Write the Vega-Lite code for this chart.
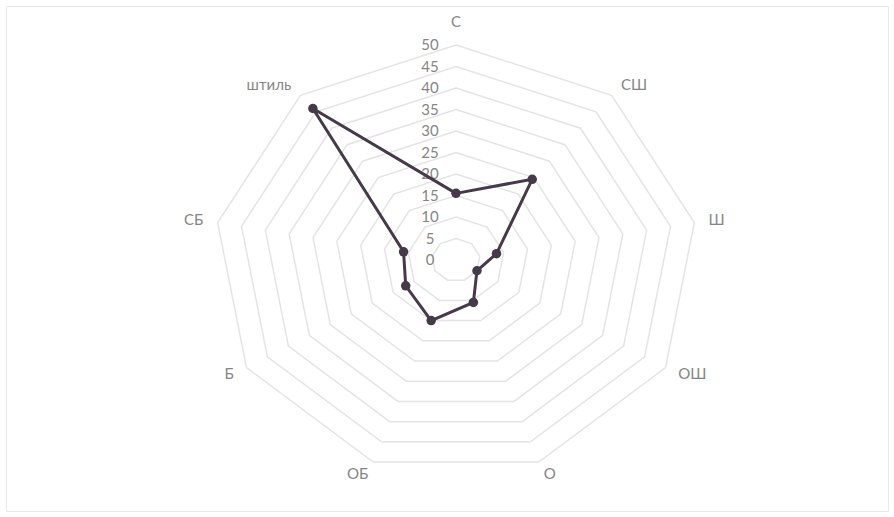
{
  "$schema": "https://vega.github.io/schema/vega-lite/v6.json",
  "width": 882,
  "height": 505,
  "autosize": {"type": "none"},
  "padding": {"left": 6, "top": 6, "right": 6, "bottom": 6},
  "background": "white",
  "config": {"view": {"stroke": "#e8e8e8", "strokeWidth": 1}, "font": "Lato"},
  "datasets": {
    "wind": [
      {"dir": "С", "i": 0, "value": 15.5},
      {"dir": "СШ", "i": 1, "value": 24.5},
      {"dir": "Ш", "i": 2, "value": 8.5},
      {"dir": "ОШ", "i": 3, "value": 5},
      {"dir": "О", "i": 4, "value": 10.5},
      {"dir": "ОБ", "i": 5, "value": 15},
      {"dir": "Б", "i": 6, "value": 12},
      {"dir": "СБ", "i": 7, "value": 11},
      {"dir": "штиль", "i": 8, "value": 46}
    ],
    "grid": [
      {"level": 5, "i": [0, 1, 2, 3, 4, 5, 6, 7, 8]},
      {"level": 10, "i": [0, 1, 2, 3, 4, 5, 6, 7, 8]},
      {"level": 15, "i": [0, 1, 2, 3, 4, 5, 6, 7, 8]},
      {"level": 20, "i": [0, 1, 2, 3, 4, 5, 6, 7, 8]},
      {"level": 25, "i": [0, 1, 2, 3, 4, 5, 6, 7, 8]},
      {"level": 30, "i": [0, 1, 2, 3, 4, 5, 6, 7, 8]},
      {"level": 35, "i": [0, 1, 2, 3, 4, 5, 6, 7, 8]},
      {"level": 40, "i": [0, 1, 2, 3, 4, 5, 6, 7, 8]},
      {"level": 45, "i": [0, 1, 2, 3, 4, 5, 6, 7, 8]},
      {"level": 50, "i": [0, 1, 2, 3, 4, 5, 6, 7, 8]}
    ],
    "ticks": [
      {"level": 0}, {"level": 5}, {"level": 10}, {"level": 15}, {"level": 20},
      {"level": 25}, {"level": 30}, {"level": 35}, {"level": 40}, {"level": 45}, {"level": 50}
    ]
  },
  "encoding": {
    "x": {"field": "x", "type": "quantitative", "scale": {"domain": [-92.98, 89.26], "nice": false, "zero": false}, "axis": null},
    "y": {"field": "y", "type": "quantitative", "scale": {"domain": [-58.37, 59.07], "nice": false, "zero": false}, "axis": null}
  },
  "layer": [
    {
      "data": {"name": "grid"},
      "transform": [
        {"flatten": ["i"]},
        {"calculate": "datum.level * sin(datum.i * 2 * PI / 9)", "as": "x"},
        {"calculate": "datum.level * cos(datum.i * 2 * PI / 9)", "as": "y"}
      ],
      "mark": {"type": "line", "interpolate": "linear-closed", "color": "#e4e4e4", "strokeWidth": 1.5},
      "encoding": {
        "detail": {"field": "level", "type": "nominal"},
        "order": {"field": "i", "type": "quantitative"}
      }
    },
    {
      "data": {"name": "ticks"},
      "transform": [
        {"calculate": "0", "as": "x"},
        {"calculate": "datum.level", "as": "y"}
      ],
      "mark": {"type": "text", "align": "center", "baseline": "middle", "dx": -26, "fontSize": 15, "color": "#868686"},
      "encoding": {"text": {"field": "level", "type": "quantitative"}}
    },
    {
      "data": {"name": "wind"},
      "transform": [
        {"calculate": "datum.value * sin(datum.i * 2 * PI / 9)", "as": "x"},
        {"calculate": "datum.value * cos(datum.i * 2 * PI / 9)", "as": "y"}
      ],
      "mark": {"type": "line", "interpolate": "linear-closed", "color": "#46394a", "strokeWidth": 3},
      "encoding": {"order": {"field": "i", "type": "quantitative"}}
    },
    {
      "data": {"name": "wind"},
      "transform": [
        {"calculate": "datum.value * sin(datum.i * 2 * PI / 9)", "as": "x"},
        {"calculate": "datum.value * cos(datum.i * 2 * PI / 9)", "as": "y"}
      ],
      "mark": {"type": "circle", "color": "#46394a", "size": 90, "opacity": 1},
      "encoding": {}
    },
    {
      "data": {"name": "wind"},
      "transform": [
        {"filter": "datum.i == 0"},
        {"calculate": "53 * sin(datum.i * 2 * PI / 9)", "as": "x"},
        {"calculate": "53 * cos(datum.i * 2 * PI / 9)", "as": "y"}
      ],
      "mark": {"type": "text", "align": "center", "baseline": "middle", "dy": -10, "fontSize": 15, "color": "#868686"},
      "encoding": {"text": {"field": "dir", "type": "nominal"}}
    },
    {
      "data": {"name": "wind"},
      "transform": [
        {"filter": "datum.i >= 1 && datum.i <= 4"},
        {"calculate": "53 * sin(datum.i * 2 * PI / 9)", "as": "x"},
        {"calculate": "53 * cos(datum.i * 2 * PI / 9)", "as": "y"}
      ],
      "mark": {"type": "text", "align": "left", "baseline": "middle", "fontSize": 15, "color": "#868686"},
      "encoding": {"text": {"field": "dir", "type": "nominal"}}
    },
    {
      "data": {"name": "wind"},
      "transform": [
        {"filter": "datum.i >= 5"},
        {"calculate": "53 * sin(datum.i * 2 * PI / 9)", "as": "x"},
        {"calculate": "53 * cos(datum.i * 2 * PI / 9)", "as": "y"}
      ],
      "mark": {"type": "text", "align": "right", "baseline": "middle", "fontSize": 15, "color": "#868686"},
      "encoding": {"text": {"field": "dir", "type": "nominal"}}
    }
  ]
}
